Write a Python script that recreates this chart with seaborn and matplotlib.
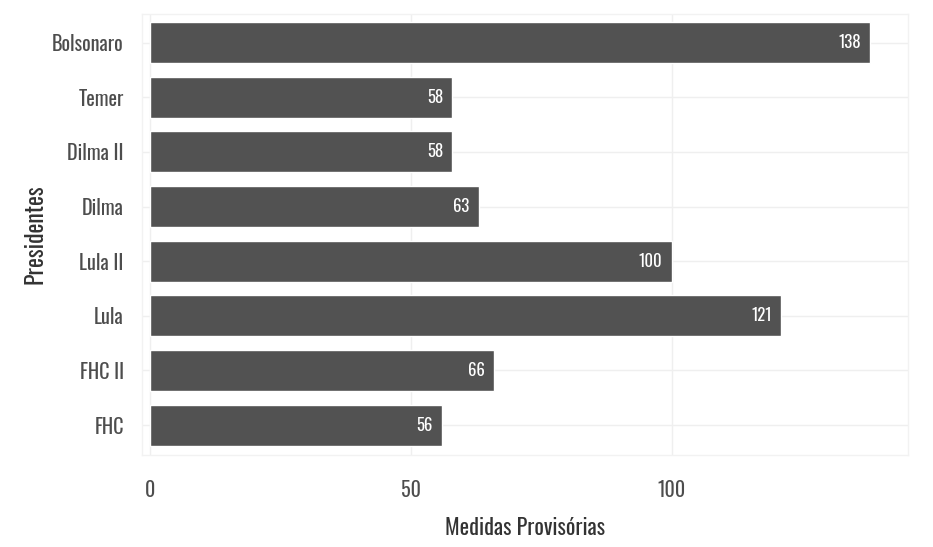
import matplotlib
matplotlib.use("Agg")
import matplotlib.pyplot as plt
import seaborn as sns
import pandas as pd

presidentes = ["Bolsonaro", "Temer", "Dilma II", "Dilma", "Lula II", "Lula", "FHC II", "FHC"]
medidas = [138, 58, 58, 63, 100, 121, 66, 56]
xticks = [0, 50, 100]

df = pd.DataFrame({"Presidentes": presidentes, "Medidas Provisórias": medidas})

sns.set_theme(style="white")
plt.rcParams["font.family"] = ["Oswald", "Roboto Condensed", "DejaVu Sans"]

fig = plt.figure(figsize=(9.33, 5.47), dpi=100)
ax = fig.add_axes([0.152, 0.168, 0.821, 0.806])

sns.barplot(data=df, y="Presidentes", x="Medidas Provisórias", color="#525252",
            saturation=1, width=0.75, ax=ax, order=presidentes)

for i, v in enumerate(medidas):
    ax.text(v - 1.8, i, str(v), color="white", ha="right", va="center", fontsize=12)

ax.set_xlim(-1.5, 145.2)
ax.set_ylim(len(presidentes) - 0.45, -0.52)
ax.set_xticks(xticks)
ax.grid(True, which="major", axis="both", color="#efefef", linewidth=1)
ax.set_axisbelow(True)
for s in ax.spines.values():
    s.set_visible(True)
    s.set_color("#f2f2f2")
    s.set_linewidth(1)
ax.tick_params(axis="both", length=0, labelsize=14.5, labelcolor="#4d4d4d")
ax.tick_params(axis="x", pad=18)
ax.tick_params(axis="y", pad=13)
ax.set_xlabel("Medidas Provisórias", fontsize=16, color="#333333", labelpad=12)
ax.set_ylabel("Presidentes", fontsize=17, color="#333333", labelpad=4)

fig.savefig("out.png", dpi=100, facecolor="white")
